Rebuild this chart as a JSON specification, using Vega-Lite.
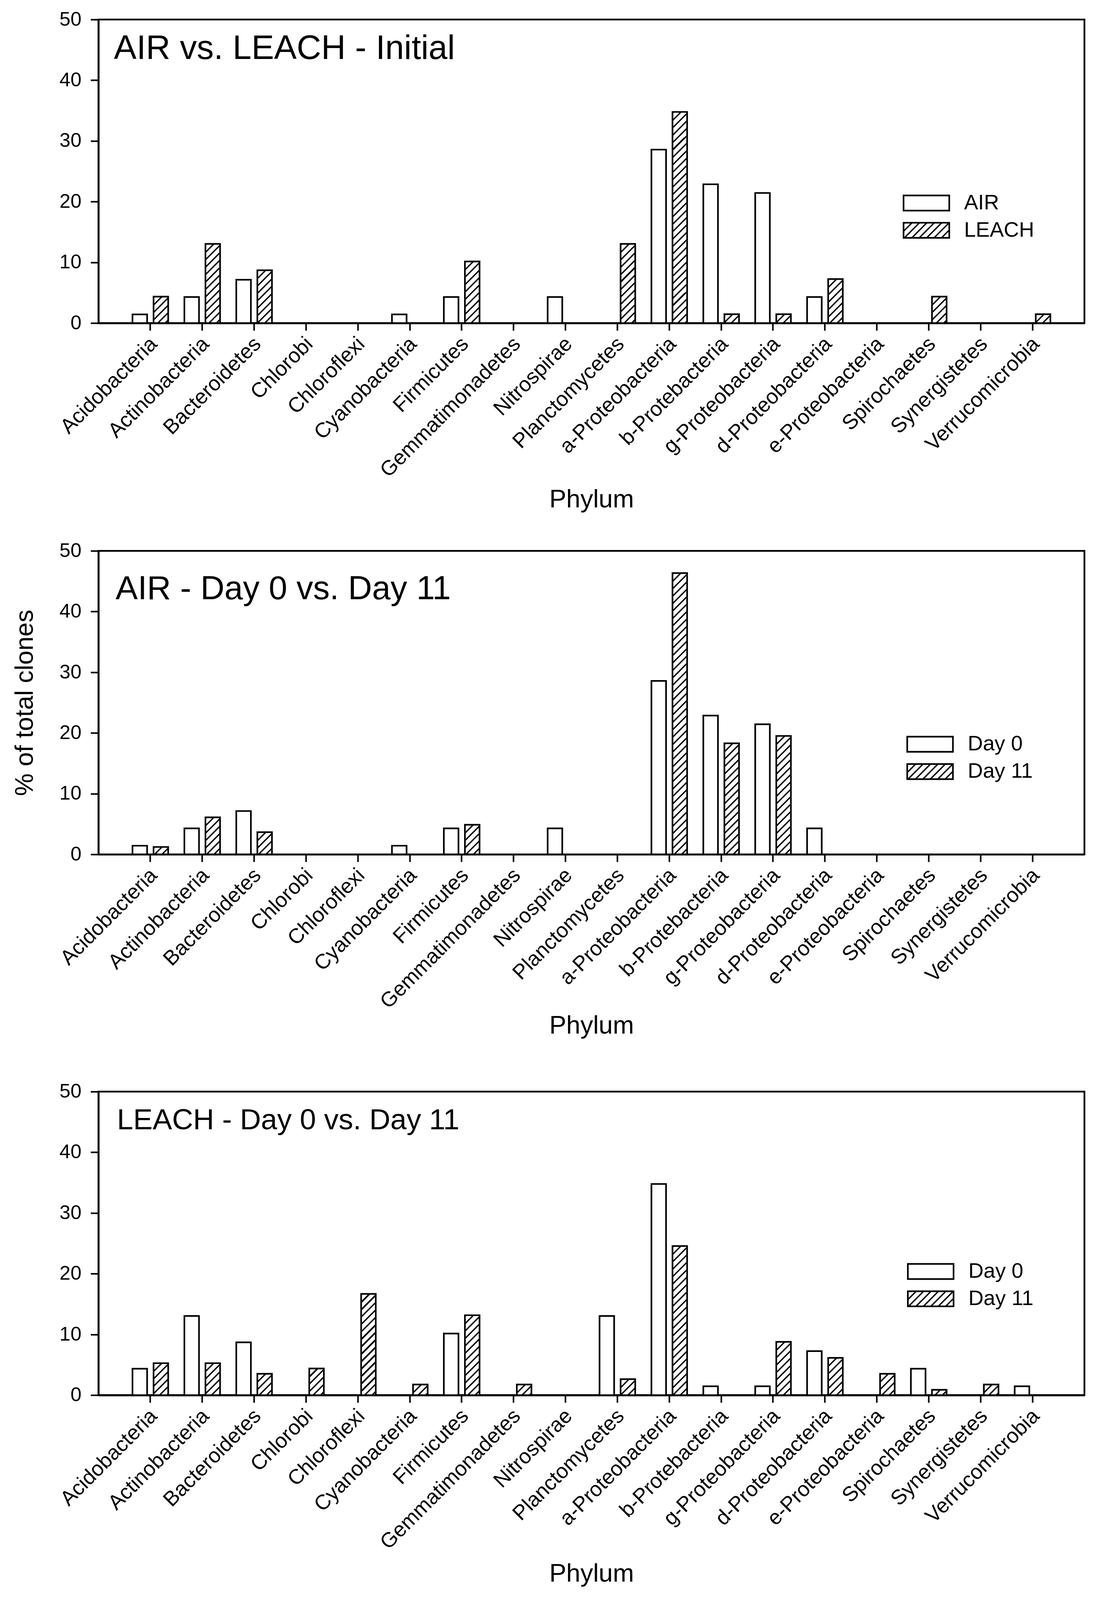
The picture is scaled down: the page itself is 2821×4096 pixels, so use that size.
{
  "$schema": "https://vega.github.io/schema/vega-lite/v6.json",
  "background": "white",
  "padding": {"left": 28, "top": 22, "right": 10, "bottom": 10},
  "params": [
    {"name": "hatchStops", "value": [
      {"offset":0,"color":"#000"},{"offset":0.0064,"color":"#000"},{"offset":0.0064,"color":"#fff"},{"offset":0.0238,"color":"#fff"},
      {"offset":0.0238,"color":"#000"},{"offset":0.0302,"color":"#000"},{"offset":0.0302,"color":"#fff"},{"offset":0.0476,"color":"#fff"},
      {"offset":0.0476,"color":"#000"},{"offset":0.0540,"color":"#000"},{"offset":0.0540,"color":"#fff"},{"offset":0.0714,"color":"#fff"},
      {"offset":0.0714,"color":"#000"},{"offset":0.0778,"color":"#000"},{"offset":0.0778,"color":"#fff"},{"offset":0.0952,"color":"#fff"},
      {"offset":0.0952,"color":"#000"},{"offset":0.1016,"color":"#000"},{"offset":0.1016,"color":"#fff"},{"offset":0.1190,"color":"#fff"},
      {"offset":0.1190,"color":"#000"},{"offset":0.1254,"color":"#000"},{"offset":0.1254,"color":"#fff"},{"offset":0.1429,"color":"#fff"},
      {"offset":0.1429,"color":"#000"},{"offset":0.1493,"color":"#000"},{"offset":0.1493,"color":"#fff"},{"offset":0.1667,"color":"#fff"},
      {"offset":0.1667,"color":"#000"},{"offset":0.1731,"color":"#000"},{"offset":0.1731,"color":"#fff"},{"offset":0.1905,"color":"#fff"},
      {"offset":0.1905,"color":"#000"},{"offset":0.1969,"color":"#000"},{"offset":0.1969,"color":"#fff"},{"offset":0.2143,"color":"#fff"},
      {"offset":0.2143,"color":"#000"},{"offset":0.2207,"color":"#000"},{"offset":0.2207,"color":"#fff"},{"offset":0.2381,"color":"#fff"},
      {"offset":0.2381,"color":"#000"},{"offset":0.2445,"color":"#000"},{"offset":0.2445,"color":"#fff"},{"offset":0.2619,"color":"#fff"},
      {"offset":0.2619,"color":"#000"},{"offset":0.2683,"color":"#000"},{"offset":0.2683,"color":"#fff"},{"offset":0.2857,"color":"#fff"},
      {"offset":0.2857,"color":"#000"},{"offset":0.2921,"color":"#000"},{"offset":0.2921,"color":"#fff"},{"offset":0.3095,"color":"#fff"},
      {"offset":0.3095,"color":"#000"},{"offset":0.3159,"color":"#000"},{"offset":0.3159,"color":"#fff"},{"offset":0.3333,"color":"#fff"},
      {"offset":0.3333,"color":"#000"},{"offset":0.3397,"color":"#000"},{"offset":0.3397,"color":"#fff"},{"offset":0.3571,"color":"#fff"},
      {"offset":0.3571,"color":"#000"},{"offset":0.3635,"color":"#000"},{"offset":0.3635,"color":"#fff"},{"offset":0.3810,"color":"#fff"},
      {"offset":0.3810,"color":"#000"},{"offset":0.3874,"color":"#000"},{"offset":0.3874,"color":"#fff"},{"offset":0.4048,"color":"#fff"},
      {"offset":0.4048,"color":"#000"},{"offset":0.4112,"color":"#000"},{"offset":0.4112,"color":"#fff"},{"offset":0.4286,"color":"#fff"},
      {"offset":0.4286,"color":"#000"},{"offset":0.4350,"color":"#000"},{"offset":0.4350,"color":"#fff"},{"offset":0.4524,"color":"#fff"},
      {"offset":0.4524,"color":"#000"},{"offset":0.4588,"color":"#000"},{"offset":0.4588,"color":"#fff"},{"offset":0.4762,"color":"#fff"},
      {"offset":0.4762,"color":"#000"},{"offset":0.4826,"color":"#000"},{"offset":0.4826,"color":"#fff"},{"offset":0.5,"color":"#fff"},
      {"offset":0.5,"color":"#000"},{"offset":0.5064,"color":"#000"},{"offset":0.5064,"color":"#fff"},{"offset":0.5238,"color":"#fff"},
      {"offset":0.5238,"color":"#000"},{"offset":0.5302,"color":"#000"},{"offset":0.5302,"color":"#fff"},{"offset":0.5476,"color":"#fff"},
      {"offset":0.5476,"color":"#000"},{"offset":0.5540,"color":"#000"},{"offset":0.5540,"color":"#fff"},{"offset":0.5714,"color":"#fff"},
      {"offset":0.5714,"color":"#000"},{"offset":0.5778,"color":"#000"},{"offset":0.5778,"color":"#fff"},{"offset":0.5952,"color":"#fff"},
      {"offset":0.5952,"color":"#000"},{"offset":0.6016,"color":"#000"},{"offset":0.6016,"color":"#fff"},{"offset":0.6190,"color":"#fff"},
      {"offset":0.6190,"color":"#000"},{"offset":0.6254,"color":"#000"},{"offset":0.6254,"color":"#fff"},{"offset":0.6429,"color":"#fff"},
      {"offset":0.6429,"color":"#000"},{"offset":0.6493,"color":"#000"},{"offset":0.6493,"color":"#fff"},{"offset":0.6667,"color":"#fff"},
      {"offset":0.6667,"color":"#000"},{"offset":0.6731,"color":"#000"},{"offset":0.6731,"color":"#fff"},{"offset":0.6905,"color":"#fff"},
      {"offset":0.6905,"color":"#000"},{"offset":0.6969,"color":"#000"},{"offset":0.6969,"color":"#fff"},{"offset":0.7143,"color":"#fff"},
      {"offset":0.7143,"color":"#000"},{"offset":0.7207,"color":"#000"},{"offset":0.7207,"color":"#fff"},{"offset":0.7381,"color":"#fff"},
      {"offset":0.7381,"color":"#000"},{"offset":0.7445,"color":"#000"},{"offset":0.7445,"color":"#fff"},{"offset":0.7619,"color":"#fff"},
      {"offset":0.7619,"color":"#000"},{"offset":0.7683,"color":"#000"},{"offset":0.7683,"color":"#fff"},{"offset":0.7857,"color":"#fff"},
      {"offset":0.7857,"color":"#000"},{"offset":0.7921,"color":"#000"},{"offset":0.7921,"color":"#fff"},{"offset":0.8095,"color":"#fff"},
      {"offset":0.8095,"color":"#000"},{"offset":0.8159,"color":"#000"},{"offset":0.8159,"color":"#fff"},{"offset":0.8333,"color":"#fff"},
      {"offset":0.8333,"color":"#000"},{"offset":0.8397,"color":"#000"},{"offset":0.8397,"color":"#fff"},{"offset":0.8571,"color":"#fff"},
      {"offset":0.8571,"color":"#000"},{"offset":0.8635,"color":"#000"},{"offset":0.8635,"color":"#fff"},{"offset":0.8810,"color":"#fff"},
      {"offset":0.8810,"color":"#000"},{"offset":0.8874,"color":"#000"},{"offset":0.8874,"color":"#fff"},{"offset":0.9048,"color":"#fff"},
      {"offset":0.9048,"color":"#000"},{"offset":0.9112,"color":"#000"},{"offset":0.9112,"color":"#fff"},{"offset":0.9286,"color":"#fff"},
      {"offset":0.9286,"color":"#000"},{"offset":0.9350,"color":"#000"},{"offset":0.9350,"color":"#fff"},{"offset":0.9524,"color":"#fff"},
      {"offset":0.9524,"color":"#000"},{"offset":0.9588,"color":"#000"},{"offset":0.9588,"color":"#fff"},{"offset":0.9762,"color":"#fff"},
      {"offset":0.9762,"color":"#000"},{"offset":0.9826,"color":"#000"},{"offset":0.9826,"color":"#fff"},{"offset":1,"color":"#fff"}
    ]}
  ],
  "config": {
    "font": "Liberation Sans",
    "view": {"stroke": "#000", "strokeWidth": 4.5},
    "axis": {"labelFont": "Liberation Sans", "titleFont": "Liberation Sans", "labelColor": "#000", "titleColor": "#000", "domainColor": "#000", "tickColor": "#000", "grid": false, "titleFontWeight": "normal", "zindex": 1, "labelOverlap": false, "labelLimit": 0},
    "axisX": {"labelAngle": -45, "labelFontSize": 53.5, "labelAlign": "right", "labelBaseline": "middle", "labelPadding": 26, "labelOffset": 9, "tickSize": 19, "tickWidth": 4, "domainWidth": 4.8, "titleFontSize": 65, "titleBaseline": "alphabetic"},
    "axisY": {"labelFontSize": 50.5, "tickSize": 20, "tickWidth": 4, "domainWidth": 4.5, "labelPadding": 24, "titleFontSize": 65, "titleBaseline": "alphabetic"},
    "legend": {"orient": "none", "labelFont": "Liberation Sans", "labelFontSize": 53.8, "labelColor": "#000", "symbolType": "M-3.023,-1H3.023V1H-3.023Z", "symbolSize": 1498, "symbolStrokeWidth": 4.2, "labelOffset": 69.5, "rowPadding": 13.9, "labelLimit": 0},
    "title": {"font": "Liberation Sans", "fontWeight": "normal", "color": "#000", "anchor": "start", "frame": "group", "baseline": "alphabetic"}
  },
  "datasets": {
    "p1": [
      {"phylum": "Acidobacteria", "series": "AIR", "pct": 1.43},
      {"phylum": "Actinobacteria", "series": "AIR", "pct": 4.29},
      {"phylum": "Bacteroidetes", "series": "AIR", "pct": 7.14},
      {"phylum": "Cyanobacteria", "series": "AIR", "pct": 1.43},
      {"phylum": "Firmicutes", "series": "AIR", "pct": 4.29},
      {"phylum": "Nitrospirae", "series": "AIR", "pct": 4.29},
      {"phylum": "a-Proteobacteria", "series": "AIR", "pct": 28.57},
      {"phylum": "b-Protebacteria", "series": "AIR", "pct": 22.86},
      {"phylum": "g-Proteobacteria", "series": "AIR", "pct": 21.43},
      {"phylum": "d-Proteobacteria", "series": "AIR", "pct": 4.29},
      {"phylum": "Acidobacteria", "series": "LEACH", "pct": 4.35},
      {"phylum": "Actinobacteria", "series": "LEACH", "pct": 13.04},
      {"phylum": "Bacteroidetes", "series": "LEACH", "pct": 8.70},
      {"phylum": "Firmicutes", "series": "LEACH", "pct": 10.14},
      {"phylum": "Planctomycetes", "series": "LEACH", "pct": 13.04},
      {"phylum": "a-Proteobacteria", "series": "LEACH", "pct": 34.78},
      {"phylum": "b-Protebacteria", "series": "LEACH", "pct": 1.45},
      {"phylum": "g-Proteobacteria", "series": "LEACH", "pct": 1.45},
      {"phylum": "d-Proteobacteria", "series": "LEACH", "pct": 7.25},
      {"phylum": "Spirochaetes", "series": "LEACH", "pct": 4.35},
      {"phylum": "Verrucomicrobia", "series": "LEACH", "pct": 1.45}
    ],
    "p2": [
      {"phylum": "Acidobacteria", "series": "Day 0", "pct": 1.43},
      {"phylum": "Actinobacteria", "series": "Day 0", "pct": 4.29},
      {"phylum": "Bacteroidetes", "series": "Day 0", "pct": 7.14},
      {"phylum": "Cyanobacteria", "series": "Day 0", "pct": 1.43},
      {"phylum": "Firmicutes", "series": "Day 0", "pct": 4.29},
      {"phylum": "Nitrospirae", "series": "Day 0", "pct": 4.29},
      {"phylum": "a-Proteobacteria", "series": "Day 0", "pct": 28.57},
      {"phylum": "b-Protebacteria", "series": "Day 0", "pct": 22.86},
      {"phylum": "g-Proteobacteria", "series": "Day 0", "pct": 21.43},
      {"phylum": "d-Proteobacteria", "series": "Day 0", "pct": 4.29},
      {"phylum": "Acidobacteria", "series": "Day 11", "pct": 1.22},
      {"phylum": "Actinobacteria", "series": "Day 11", "pct": 6.10},
      {"phylum": "Bacteroidetes", "series": "Day 11", "pct": 3.66},
      {"phylum": "Firmicutes", "series": "Day 11", "pct": 4.88},
      {"phylum": "a-Proteobacteria", "series": "Day 11", "pct": 46.34},
      {"phylum": "b-Protebacteria", "series": "Day 11", "pct": 18.29},
      {"phylum": "g-Proteobacteria", "series": "Day 11", "pct": 19.51}
    ],
    "p3": [
      {"phylum": "Acidobacteria", "series": "Day 0", "pct": 4.35},
      {"phylum": "Actinobacteria", "series": "Day 0", "pct": 13.04},
      {"phylum": "Bacteroidetes", "series": "Day 0", "pct": 8.70},
      {"phylum": "Firmicutes", "series": "Day 0", "pct": 10.14},
      {"phylum": "Planctomycetes", "series": "Day 0", "pct": 13.04},
      {"phylum": "a-Proteobacteria", "series": "Day 0", "pct": 34.78},
      {"phylum": "b-Protebacteria", "series": "Day 0", "pct": 1.45},
      {"phylum": "g-Proteobacteria", "series": "Day 0", "pct": 1.45},
      {"phylum": "d-Proteobacteria", "series": "Day 0", "pct": 7.25},
      {"phylum": "Spirochaetes", "series": "Day 0", "pct": 4.35},
      {"phylum": "Verrucomicrobia", "series": "Day 0", "pct": 1.45},
      {"phylum": "Acidobacteria", "series": "Day 11", "pct": 5.26},
      {"phylum": "Actinobacteria", "series": "Day 11", "pct": 5.26},
      {"phylum": "Bacteroidetes", "series": "Day 11", "pct": 3.51},
      {"phylum": "Chlorobi", "series": "Day 11", "pct": 4.39},
      {"phylum": "Chloroflexi", "series": "Day 11", "pct": 16.67},
      {"phylum": "Cyanobacteria", "series": "Day 11", "pct": 1.75},
      {"phylum": "Firmicutes", "series": "Day 11", "pct": 13.16},
      {"phylum": "Gemmatimonadetes", "series": "Day 11", "pct": 1.75},
      {"phylum": "Planctomycetes", "series": "Day 11", "pct": 2.63},
      {"phylum": "a-Proteobacteria", "series": "Day 11", "pct": 24.56},
      {"phylum": "g-Proteobacteria", "series": "Day 11", "pct": 8.77},
      {"phylum": "d-Proteobacteria", "series": "Day 11", "pct": 6.14},
      {"phylum": "e-Proteobacteria", "series": "Day 11", "pct": 3.51},
      {"phylum": "Spirochaetes", "series": "Day 11", "pct": 0.88},
      {"phylum": "Synergistetes", "series": "Day 11", "pct": 1.75}
    ]
  },
  "bounds": "flush",
  "spacing": 583.2,
  "resolve": {"scale": {"stroke": "independent", "xOffset": "independent"}},
  "vconcat": [
    {
      "width": 2524, "height": 777,
      "data": {"name": "p1"},
      "title": {"text": "AIR vs. LEACH - Initial", "fontSize": 86.8, "offset": -143.4, "dx": 39.6},
      "mark": {"type": "bar", "strokeWidth": 4.2, "strokeJoin": "miter", "fill": {"expr": "(datum.series == 'LEACH' || datum.series == 'Day 11' || datum.value == 'LEACH' || datum.value == 'Day 11') ? (datum.pct != null ? {gradient: 'linear', x1: 0, y1: 0, x2: 29869 / (1401 + pow(datum.pct * 15.54, 2)), y2: 798 * datum.pct * 15.54 / (1401 + pow(datum.pct * 15.54, 2)), stops: hatchStops} : {gradient: 'linear', x1: 0, y1: 0, x2: 6.148, y2: 2.0335, stops: hatchStops}) : 'white'"}},
      "encoding": {
        "x": {"field": "phylum", "type": "nominal", "scale": {"domain": ["Acidobacteria","Actinobacteria","Bacteroidetes","Chlorobi","Chloroflexi","Cyanobacteria","Firmicutes","Gemmatimonadetes","Nitrospirae","Planctomycetes","a-Proteobacteria","b-Protebacteria","g-Proteobacteria","d-Proteobacteria","e-Proteobacteria","Spirochaetes","Synergistetes","Verrucomicrobia"], "paddingInner": 0, "paddingOuter": 0.5}, "axis": {"title": "Phylum", "titleY": 471.5}},
        "xOffset": {"field": "series", "type": "nominal", "scale": {"domain": ["AIR", "LEACH"], "paddingInner": 0.306, "paddingOuter": 0.3844}},
        "y": {"field": "pct", "type": "quantitative", "stack": null, "scale": {"domain": [0, 50], "nice": false}, "axis": {"title": null, "values": [0, 10, 20, 30, 40, 50]}},
        "stroke": {"field": "series", "type": "nominal", "scale": {"domain": ["AIR", "LEACH"], "range": ["#000", "#000"]}, "legend": {"title": null, "legendX": 2092.6, "legendY": 442.8}}
      }
    },
    {
      "bounds": "flush",
      "spacing": 607.3,
      "resolve": {"scale": {"stroke": "independent", "xOffset": "independent"}},
      "vconcat": [
        {
          "width": 2524, "height": 777,
          "data": {"name": "p2"},
          "title": {"text": "AIR - Day 0 vs. Day 11", "fontSize": 85, "offset": -166.9, "dx": 44},
          "mark": {"type": "bar", "strokeWidth": 4.2, "strokeJoin": "miter", "fill": {"expr": "(datum.series == 'LEACH' || datum.series == 'Day 11' || datum.value == 'LEACH' || datum.value == 'Day 11') ? (datum.pct != null ? {gradient: 'linear', x1: 0, y1: 0, x2: 29869 / (1401 + pow(datum.pct * 15.54, 2)), y2: 798 * datum.pct * 15.54 / (1401 + pow(datum.pct * 15.54, 2)), stops: hatchStops} : {gradient: 'linear', x1: 0, y1: 0, x2: 6.148, y2: 2.0335, stops: hatchStops}) : 'white'"}},
          "encoding": {
            "x": {"field": "phylum", "type": "nominal", "scale": {"domain": ["Acidobacteria","Actinobacteria","Bacteroidetes","Chlorobi","Chloroflexi","Cyanobacteria","Firmicutes","Gemmatimonadetes","Nitrospirae","Planctomycetes","a-Proteobacteria","b-Protebacteria","g-Proteobacteria","d-Proteobacteria","e-Proteobacteria","Spirochaetes","Synergistetes","Verrucomicrobia"], "paddingInner": 0, "paddingOuter": 0.5}, "axis": {"title": "Phylum", "titleY": 458.3}},
            "xOffset": {"field": "series", "type": "nominal", "scale": {"domain": ["Day 0", "Day 11"], "paddingInner": 0.306, "paddingOuter": 0.3844}},
            "y": {"field": "pct", "type": "quantitative", "stack": null, "scale": {"domain": [0, 50], "nice": false}, "axis": {"title": "% of total clones", "titleX": -168.8, "titleY": 388.5, "titleAlign": "center", "titleAngle": -90, "values": [0, 10, 20, 30, 40, 50]}},
            "stroke": {"field": "series", "type": "nominal", "scale": {"domain": ["Day 0", "Day 11"], "range": ["#000", "#000"]}, "legend": {"title": null, "legendX": 2102, "legendY": 468.2}}
          }
        },
        {
          "width": 2524, "height": 777,
          "data": {"name": "p3"},
          "title": {"text": "LEACH - Day 0 vs. Day 11", "fontSize": 74.5, "offset": -137, "dx": 47.6},
          "mark": {"type": "bar", "strokeWidth": 4.2, "strokeJoin": "miter", "fill": {"expr": "(datum.series == 'LEACH' || datum.series == 'Day 11' || datum.value == 'LEACH' || datum.value == 'Day 11') ? (datum.pct != null ? {gradient: 'linear', x1: 0, y1: 0, x2: 29869 / (1401 + pow(datum.pct * 15.54, 2)), y2: 798 * datum.pct * 15.54 / (1401 + pow(datum.pct * 15.54, 2)), stops: hatchStops} : {gradient: 'linear', x1: 0, y1: 0, x2: 6.148, y2: 2.0335, stops: hatchStops}) : 'white'"}},
          "encoding": {
            "x": {"field": "phylum", "type": "nominal", "scale": {"domain": ["Acidobacteria","Actinobacteria","Bacteroidetes","Chlorobi","Chloroflexi","Cyanobacteria","Firmicutes","Gemmatimonadetes","Nitrospirae","Planctomycetes","a-Proteobacteria","b-Protebacteria","g-Proteobacteria","d-Proteobacteria","e-Proteobacteria","Spirochaetes","Synergistetes","Verrucomicrobia"], "paddingInner": 0, "paddingOuter": 0.5}, "axis": {"title": "Phylum", "titleY": 476.8}},
            "xOffset": {"field": "series", "type": "nominal", "scale": {"domain": ["Day 0", "Day 11"], "paddingInner": 0.306, "paddingOuter": 0.3844}},
            "y": {"field": "pct", "type": "quantitative", "stack": null, "scale": {"domain": [0, 50], "nice": false}, "axis": {"title": null, "values": [0, 10, 20, 30, 40, 50]}},
            "stroke": {"field": "series", "type": "nominal", "scale": {"domain": ["Day 0", "Day 11"], "range": ["#000", "#000"]}, "legend": {"title": null, "legendX": 2103.6, "legendY": 433.6}}
          }
        }
      ]
    }
  ]
}
